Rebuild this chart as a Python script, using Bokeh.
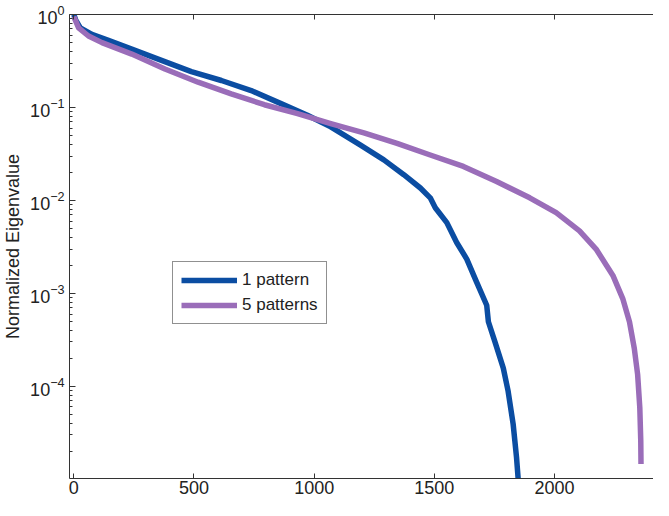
from bokeh.plotting import figure
from bokeh.models import (Range1d, LogAxis, LinearAxis, FixedTicker, Legend,
                          LegendItem, LogTickFormatter, LogScale)
from bokeh.embed import file_html
from bokeh.resources import INLINE

# ---- data ----
one_x = [0, 8, 27, 75, 144, 241, 351, 489, 614, 738, 862, 972, 1069, 1193,
         1290, 1373, 1442, 1483, 1504, 1552, 1593, 1635, 1676, 1718, 1725,
         1752, 1787, 1807, 1828, 1842, 1852]
one_y = [1.0, 0.87, 0.719, 0.612, 0.528, 0.424, 0.331, 0.243, 0.195, 0.152,
         0.110, 0.0824, 0.0618, 0.0394, 0.0273, 0.0189, 0.0136, 0.01066,
         0.00834, 0.00577, 0.00353, 0.00234, 0.00132, 7.45e-4, 4.95e-4,
         3.03e-4, 1.57e-4, 8.9e-5, 3.92e-5, 1.73e-5, 7.9e-6]

five_x = [0, 20, 61, 117, 241, 379, 517, 655, 793, 931, 1069, 1207, 1345,
          1483, 1621, 1759, 1897, 2007, 2104, 2173, 2243, 2284, 2312, 2332,
          2346, 2355, 2359, 2360]
five_y = [0.95, 0.719, 0.587, 0.498, 0.375, 0.259, 0.187, 0.140, 0.107,
          0.0859, 0.0671, 0.0533, 0.0411, 0.0308, 0.0232, 0.0160, 0.01066,
          0.00738, 0.00470, 0.00300, 0.00156, 8.79e-4, 4.95e-4, 2.57e-4,
          1.34e-4, 5.90e-5, 2.61e-5, 1.46e-5]

x_ticks = [0, 500, 1000, 1500, 2000]
y_ticks = [1e-4, 1e-3, 1e-2, 1e-1, 1e0]
y_minor = [m * 10.0 ** e for e in range(-5, 0) for m in range(2, 10)]

labels = ["1 pattern", "5 patterns"]
colors = ["#0b4da2", "#9a6db9"]

FONT = "Liberation Sans"
TXT = "#222222"
AX = "#333333"

p = figure(width=653, height=500, output_backend="svg", toolbar_location=None,
           y_axis_type=None, x_axis_type=None,
           x_range=Range1d(-18, 2412), y_range=Range1d(1.02e-5, 1.0),
           min_border_left=66, min_border_right=0, min_border_top=14,
           min_border_bottom=22)
p.y_scale = LogScale()
p.outline_line_color = None
p.xgrid.visible = False
p.ygrid.visible = False
p.background_fill_color = "white"
p.border_fill_color = "white"

yax = LogAxis(ticker=FixedTicker(ticks=y_ticks, minor_ticks=y_minor),
              formatter=LogTickFormatter())
yax.axis_label = "Normalized Eigenvalue"
yax.axis_label_text_font = FONT
yax.axis_label_text_font_style = "normal"
yax.axis_label_text_font_size = "18px"
yax.axis_label_text_color = TXT
yax.axis_label_standoff = 4
yax.major_label_text_font = FONT
yax.major_label_text_font_size = "18px"
yax.major_label_text_color = TXT
yax.major_label_standoff = 5
yax.major_tick_in = 6
yax.major_tick_out = 0
yax.minor_tick_in = 3
yax.minor_tick_out = 0
yax.axis_line_color = AX
yax.major_tick_line_color = AX
yax.minor_tick_line_color = AX
p.add_layout(yax, "left")

xax = LinearAxis(ticker=FixedTicker(ticks=x_ticks))
xax.major_label_text_font = FONT
xax.major_label_text_font_size = "18px"
xax.major_label_text_color = TXT
xax.major_label_standoff = 2
xax.major_tick_in = 5
xax.major_tick_out = 0
xax.minor_tick_line_color = None
xax.axis_line_color = AX
xax.major_tick_line_color = AX
p.add_layout(xax, "below")

# top frame edge with inward ticks, no labels drawn
tax = LinearAxis(ticker=FixedTicker(ticks=x_ticks))
tax.major_label_text_font_size = "1px"
tax.major_label_text_color = None
tax.major_label_standoff = 0
tax.major_tick_in = 5
tax.major_tick_out = 0
tax.minor_tick_line_color = None
tax.axis_line_color = AX
tax.major_tick_line_color = AX
p.add_layout(tax, "above")

r1 = p.line(one_x, one_y, line_color=colors[0], line_width=5.5,
            line_cap="butt", line_join="round")
r2 = p.line(five_x, five_y, line_color=colors[1], line_width=5.5,
            line_cap="butt", line_join="round")

legend = Legend(items=[LegendItem(label=labels[0], renderers=[r1]),
                       LegendItem(label=labels[1], renderers=[r2])],
                location=(103, 154))
legend.label_text_font = FONT
legend.label_text_font_size = "17px"
legend.label_text_color = TXT
legend.label_height = 20
legend.glyph_height = 20
legend.glyph_width = 56
legend.label_standoff = 5
legend.spacing = 5
legend.padding = 8
legend.margin = 0
legend.border_line_color = TXT
legend.border_line_width = 1
legend.background_fill_color = "white"
legend.background_fill_alpha = 1.0
p.add_layout(legend, "center")

open("out.html", "w").write(file_html(p, INLINE))
